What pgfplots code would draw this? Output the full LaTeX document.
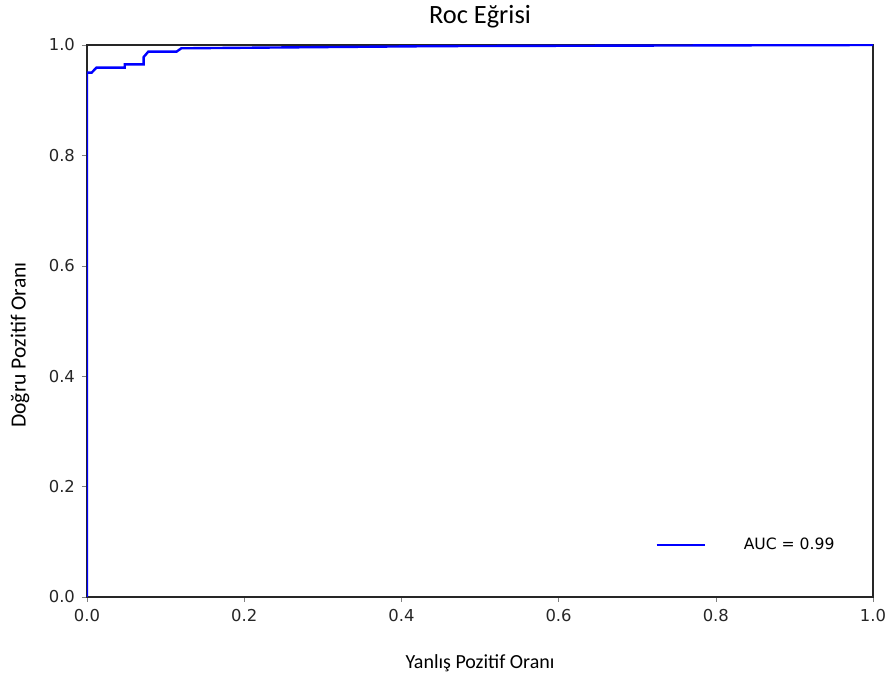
\documentclass[border=0pt]{standalone}
\usepackage{fontspec}
\setmainfont{Carlito}
\newfontfamily\tickfont{DejaVu Sans}
\usepackage{pgfplots}
\pgfplotsset{compat=1.18}

\begin{document}
\begin{tikzpicture}
\begin{axis}[
    scale only axis,
    width=393pt, height=276pt,
    xmin=0, xmax=1, ymin=0, ymax=1,
    xtick={0,0.2,0.4,0.6,0.8,1.0},
    ytick={0,0.2,0.4,0.6,0.8,1.0},
    /pgf/number format/.cd, fixed, fixed zerofill, precision=1, assume math mode=true,
    /pgfplots/.cd,
    tick label style={font=\tickfont\fontsize{8.2pt}{9pt}\selectfont, text=black!85},
    tick align=outside,
    tick pos=left,
    major tick length=2.5pt,
    axis line style={line width=0.6pt, black!85},
    title={Roc Eğrisi},
    title style={font=\fontsize{13.2pt}{15pt}\selectfont, at={(axis description cs:0.5,1)}, anchor=center, yshift=8pt},
    xlabel={Yanlış Pozitif Oranı},
    xlabel style={font=\fontsize{10pt}{12pt}\selectfont, at={(axis description cs:0.5,0)}, anchor=center, yshift=-33pt},
    ylabel={Doğru Pozitif Oranı},
    ylabel style={font=\fontsize{10.8pt}{12pt}\selectfont, at={(axis description cs:0,0.5)}, anchor=center, yshift=33.5pt, xshift=-12pt},
    legend style={draw=none, fill=none, at={(axis description cs:0.7226,0.094)}, anchor=west,
        font=\tickfont\fontsize{7.8pt}{9pt}\selectfont, inner sep=0pt,
        nodes={inner sep=1pt}},
    legend image code/.code={\draw[#1] (0pt,0pt) -- (24pt,0pt); \path (42pt,0pt);},
]
\addplot[color=blue, line width=1.2pt] coordinates {
(0,0) (0,0.950) (0.006,0.950) (0.012,0.959) (0.048,0.959) (0.048,0.965)
(0.072,0.965) (0.072,0.978) (0.078,0.988) (0.114,0.988) (0.12,0.994)
(0.45,0.998) (1,1)
};
\legend{AUC = 0.99}
\path (rel axis cs:0,0) coordinate (bl);
\path (rel axis cs:1,1) coordinate (tr);
\end{axis}
\pgfresetboundingbox
\path[use as bounding box] ([shift={(-43.5pt,-43.5pt)}]bl) rectangle ([shift={(8pt,22.5pt)}]tr);
\end{tikzpicture}
\end{document}
